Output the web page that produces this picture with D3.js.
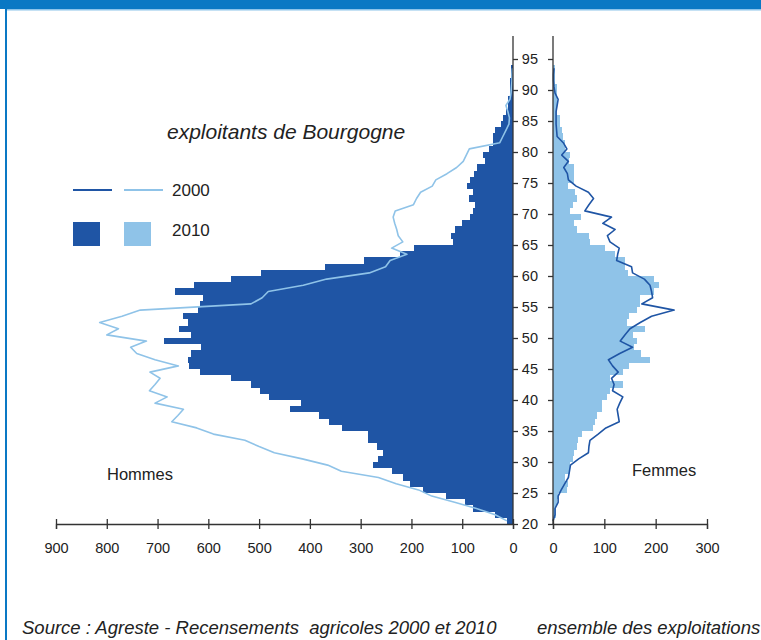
<!DOCTYPE html>
<html><head><meta charset="utf-8">
<script src="https://cdn.jsdelivr.net/npm/d3@7"></script>
<style>
body{margin:0;background:#fff}
svg{display:block}
text{font-family:"Liberation Sans",Arial,Helvetica,sans-serif;fill:#222}
</style>
</head><body>
<svg id="chart" width="761" height="640"></svg>
<script>
// ---- data ----
const ages = [20,21,22,23,24,25,26,27,28,29,30,31,32,33,34,35,36,37,38,39,
              40,41,42,43,44,45,46,47,48,49,50,51,52,53,54,55,56,57,58,59,
              60,61,62,63,64,65,66,67,68,69,70,71,72,73,74,75,76,77,78,79,
              80,81,82,83,84,85,86,87,88,89,90,91,92,93];
const hommes2010 = [12,35,78,94,132,177,203,216,239,275,266,256,268,285,285,337,362,383,440,418,
                    480,499,516,555,616,639,641,634,614,687,634,657,641,649,621,616,610,665,629,555,
                    496,370,293,222,195,119,122,114,100,85,78,75,86,79,91,85,77,70,55,60,
                    47,39,39,35,24,19,14,9,9,6,5,5,4,3];
const hommes2000 = [12,35,72,115,160,186,230,265,338,365,415,470,500,528,590,623,672,660,649,705,
                    681,716,705,695,715,659,705,741,753,722,800,777,814,770,734,516,494,482,413,367,
                    283,251,242,209,239,217,226,229,233,236,232,196,190,182,159,152,130,111,98,92,
                    86,26,20,14,8,7,10,14,6,4,3,2,2,1];
const femmes2010 = [1,5,6,7,10,27,30,23,34,34,38,41,46,49,56,77,82,86,95,95,
                    105,112,136,112,136,149,189,171,158,164,156,179,144,149,164,170,170,197,206,197,
                    147,140,140,121,101,73,71,47,41,54,34,38,46,43,30,40,40,40,31,33,
                    23,23,20,17,14,14,8,8,8,7,7,4,4,3];
const femmes2000 = [0,4,4,10,10,16,23,30,32,34,50,69,70,72,88,103,129,127,125,130,
                    136,116,119,114,127,116,108,130,155,131,140,150,170,192,236,173,194,192,189,178,
                    155,153,124,126,129,111,106,121,97,114,62,70,79,69,45,30,28,21,30,17,
                    27,20,8,7,6,6,6,8,10,4,2,1,1,2];
const ageTicks = [20,25,30,35,40,45,50,55,60,65,70,75,80,85,90,95];
const hommesTicks = [0,100,200,300,400,500,600,700,800,900];
const femmesTicks = [0,100,200,300];
const legendYears = ["2000","2010"];

// ---- setup ----
const svg = d3.select("#chart");
const DARK = "#1f55a5", LIGHT = "#8fc3e8", AXIS = "#333";
const y = d3.scaleLinear().domain([20,95]).range([524,59]);
const xH = d3.scaleLinear().domain([0,900]).range([513,56]);
const xF = d3.scaleLinear().domain([0,300]).range([553,707]);
const axisTopY = 36;

// frame
svg.append("rect").attr("x",0).attr("y",0).attr("width",761).attr("height",9).attr("fill","#0a78c4");
svg.append("rect").attr("x",5).attr("y",9).attr("width",756).attr("height",1.5).attr("fill","#8cc3ea");
svg.append("rect").attr("x",5).attr("y",9).attr("width",2).attr("height",631).attr("fill","#0a78c4");

const men = ages.map((a,i)=>({a, v10:hommes2010[i], v00:hommes2000[i]}));
const women = ages.map((a,i)=>({a, v10:femmes2010[i], v00:femmes2000[i]}));

// bars
svg.append("g").attr("shape-rendering","crispEdges").selectAll("rect").data(men).join("rect")
  .attr("x",d=>xH(d.v10)).attr("width",d=>xH(0)-xH(d.v10))
  .attr("y",d=>y(d.a+1)).attr("height",d=>y(d.a)-y(d.a+1)).attr("fill",DARK);
svg.append("g").attr("shape-rendering","crispEdges").selectAll("rect").data(women).join("rect")
  .attr("x",xF(0)).attr("width",d=>xF(d.v10)-xF(0))
  .attr("y",d=>y(d.a+1)).attr("height",d=>y(d.a)-y(d.a+1)).attr("fill",LIGHT);

// lines 2000
svg.append("path").datum(men).attr("fill","none").attr("stroke",LIGHT).attr("stroke-width",1.6)
  .attr("stroke-linejoin","round")
  .attr("d",d3.line().x(d=>xH(d.v00)).y(d=>y(d.a+0.5)));
svg.append("path").datum(women).attr("fill","none").attr("stroke",DARK).attr("stroke-width",1.6)
  .attr("stroke-linejoin","round")
  .attr("d",d3.line().x(d=>xF(d.v00)).y(d=>y(d.a+0.5)));

// horizontal axes
function hAxis(scale, ticks){
  const g = svg.append("g").attr("transform",`translate(0,${y(20)})`)
    .call(d3.axisBottom(scale).tickValues(ticks).tickSizeOuter(0).tickSize(5).tickPadding(14));
  g.select(".domain").attr("stroke",AXIS).attr("stroke-width",1.3);
  g.selectAll(".tick line").attr("y1",-5).attr("y2",5).attr("stroke",AXIS).attr("stroke-width",1.3);
  g.selectAll(".tick text").attr("font-size",14.5).attr("fill","#222")
    .attr("font-family","Liberation Sans, Arial, sans-serif");
}
hAxis(xH, hommesTicks);
hAxis(xF, femmesTicks);

// vertical axes
const gL = svg.append("g").attr("transform",`translate(${xH(0)},0)`)
  .call(d3.axisRight(y).tickValues(ageTicks).tickSize(5).tickFormat(""));
gL.select(".domain").remove();
gL.selectAll(".tick line").attr("stroke",AXIS).attr("stroke-width",1.3);
const gR = svg.append("g").attr("transform",`translate(${xF(0)},0)`)
  .call(d3.axisLeft(y).tickValues(ageTicks).tickSize(5).tickPadding(10));
gR.select(".domain").remove();
gR.selectAll(".tick line").attr("stroke",AXIS).attr("stroke-width",1.3);
gR.selectAll(".tick text").attr("font-size",14.5).attr("fill","#222")
  .attr("font-family","Liberation Sans, Arial, sans-serif");
[xH(0), xF(0)].forEach(x=>{
  svg.append("line").attr("x1",x).attr("x2",x).attr("y1",axisTopY).attr("y2",y(20))
    .attr("stroke",AXIS).attr("stroke-width",1.3);
});

// texts
svg.append("text").attr("x",167).attr("y",139).attr("font-size",21).attr("font-style","italic")
  .text("exploitants de Bourgogne");
svg.append("text").attr("x",107).attr("y",480).attr("font-size",16.5).text("Hommes");
svg.append("text").attr("x",632).attr("y",476).attr("font-size",16.5).text("Femmes");
svg.append("text").attr("x",22).attr("y",634).attr("font-size",18.5).attr("font-style","italic")
  .attr("xml:space","preserve").style("white-space","pre")
  .text("Source : Agreste - Recensements  agricoles 2000 et 2010");
svg.append("text").attr("x",537).attr("y",634).attr("font-size",18.5).attr("font-style","italic")
  .text("ensemble des exploitations");

// legend
const lg = svg.append("g");
lg.append("line").attr("x1",73).attr("x2",112).attr("y1",190).attr("y2",190).attr("stroke",DARK).attr("stroke-width",2);
lg.append("line").attr("x1",124).attr("x2",163).attr("y1",190).attr("y2",190).attr("stroke",LIGHT).attr("stroke-width",2);
lg.append("rect").attr("x",73).attr("y",222).attr("width",27).attr("height",24).attr("fill",DARK);
lg.append("rect").attr("x",124).attr("y",222).attr("width",27).attr("height",24).attr("fill",LIGHT);
lg.append("text").attr("x",172).attr("y",196).attr("font-size",17).text(legendYears[0]);
lg.append("text").attr("x",172).attr("y",236).attr("font-size",17).text(legendYears[1]);
</script>
</body></html>
